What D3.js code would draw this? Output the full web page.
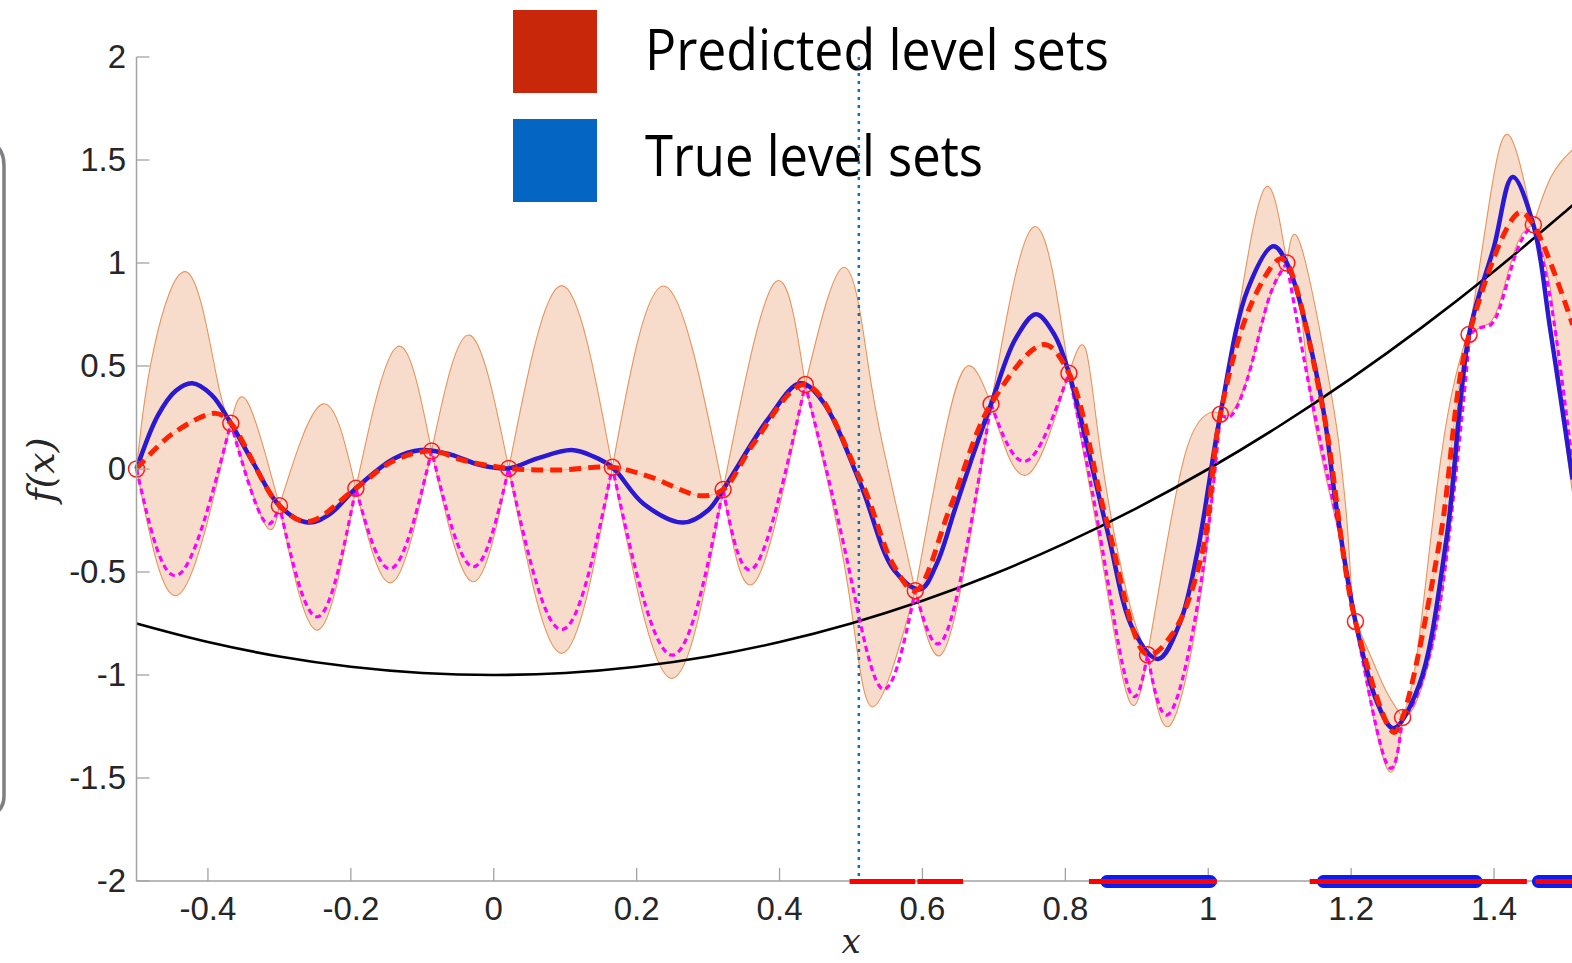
<!DOCTYPE html>
<html>
<head>
<meta charset="utf-8">
<script src="https://cdn.jsdelivr.net/npm/d3@7"></script>
<style>
  body { margin: 0; background: #fff; }
  svg { display: block; }
</style>
</head>
<body>
<svg id="chart" width="1572" height="963"></svg>
<script>
// Observations (red circles)
const obsX = [-0.5, -0.368, -0.300, -0.193, -0.087, 0.021, 0.166, 0.321, 0.436, 0.590,
              0.696, 0.805, 0.915, 1.017, 1.110, 1.206, 1.272, 1.365, 1.455];
const obsY = [0.0, 0.222, -0.178, -0.094, 0.087, 0.003, 0.008, -0.100, 0.410, -0.591,
              0.315, 0.465, -0.902, 0.266, 1.0, -0.740, -1.206, 0.653, 1.186];

// Confidence band, upper edge (pinches at the observations)
const bandUpper = [
  [-0.5, 0.0], [-0.476, 0.58], [-0.428, 0.953], [-0.388, 0.45], [-0.368, 0.222],
  [-0.345, 0.327], [-0.300, -0.178],
  [-0.239, 0.316], [-0.193, -0.094],
  [-0.135, 0.594], [-0.087, 0.087],
  [-0.034, 0.65], [0.021, 0.003],
  [0.095, 0.89], [0.166, 0.008],
  [0.239, 0.888], [0.321, -0.100],
  [0.392, 0.90], [0.436, 0.410],
  [0.49, 0.979], [0.523, 0.53], [0.546, 0.09], [0.590, -0.591],
  [0.63, 0.15], [0.663, 0.5], [0.696, 0.315],
  [0.756, 1.176], [0.805, 0.465],
  [0.828, 0.586], [0.849, 0.092], [0.886, -0.60], [0.915, -0.902],
  [0.94, -0.4], [0.97, 0.1], [1.0, 0.27], [1.017, 0.266],
  [1.045, 0.82], [1.08, 1.367], [1.110, 1.0],
  [1.13, 1.08], [1.171, 0.388], [1.185, 0.06], [1.194, -0.247], [1.2, -0.553], [1.206, -0.740],
  [1.23, -0.93], [1.25, -1.085], [1.272, -1.206],
  [1.29, -0.95], [1.311, -0.35], [1.335, 0.26], [1.358, 0.6], [1.365, 0.653],
  [1.393, 1.286], [1.42, 1.623], [1.455, 1.186],
  [1.48, 1.42], [1.51, 1.55]
];

// Confidence band, lower edge
const bandLower = [
  [-0.5, 0.0], [-0.442, -0.612], [-0.368, 0.222],
  [-0.32, -0.269], [-0.300, -0.178],
  [-0.246, -0.782], [-0.193, -0.094],
  [-0.142, -0.55], [-0.087, 0.087],
  [-0.030, -0.547], [0.021, 0.003],
  [0.095, -0.895], [0.166, 0.008],
  [0.248, -1.016], [0.321, -0.100],
  [0.366, -0.547], [0.436, 0.410],
  [0.495, -0.555], [0.53, -1.155], [0.590, -0.591],
  [0.625, -0.905], [0.662, -0.427], [0.696, 0.315],
  [0.746, -0.029], [0.805, 0.465],
  [0.849, -0.39], [0.889, -1.121], [0.915, -0.902],
  [0.947, -1.243], [0.99, -0.6], [1.017, 0.266],
  [1.035, 0.285], [1.06, 0.5], [1.085, 0.82], [1.110, 1.0],
  [1.13, 0.75], [1.147, 0.264], [1.185, -0.35], [1.206, -0.740],
  [1.25, -1.452], [1.272, -1.206],
  [1.292, -1.125], [1.32, -0.757], [1.343, -0.145], [1.362, 0.55], [1.365, 0.653],
  [1.385, 0.693], [1.405, 0.78], [1.431, 1.081], [1.455, 1.186],
  [1.48, 0.85], [1.495, 0.3], [1.51, -0.12]
];

// Magenta dotted lower bound
const lowerBound = [
  [-0.5, 0.0], [-0.442, -0.515], [-0.368, 0.222],
  [-0.324, -0.238], [-0.300, -0.178],
  [-0.246, -0.717], [-0.193, -0.094],
  [-0.142, -0.481], [-0.087, 0.087],
  [-0.030, -0.474], [0.021, 0.003],
  [0.095, -0.78], [0.166, 0.008],
  [0.248, -0.903], [0.321, -0.100],
  [0.366, -0.471], [0.436, 0.410],
  [0.495, -0.45], [0.544, -1.068], [0.590, -0.591],
  [0.625, -0.844], [0.662, -0.38], [0.696, 0.315],
  [0.746, 0.04], [0.805, 0.465],
  [0.849, -0.33], [0.889, -1.069], [0.915, -0.902],
  [0.947, -1.182], [0.99, -0.55], [1.017, 0.266],
  [1.035, 0.27], [1.06, 0.5], [1.085, 0.83], [1.110, 1.0],
  [1.147, 0.3], [1.185, -0.33], [1.206, -0.740],
  [1.25, -1.432], [1.272, -1.206],
  [1.292, -1.1], [1.32, -0.74], [1.343, -0.14], [1.362, 0.5], [1.365, 0.653],
  [1.385, 0.69], [1.405, 0.754], [1.431, 1.05], [1.455, 1.186],
  [1.48, 0.8], [1.51, 0.02]
];

// True function (blue)
const trueF = [
  [-0.5, 0.0], [-0.47, 0.26], [-0.445, 0.38], [-0.422, 0.416], [-0.395, 0.36], [-0.368, 0.222],
  [-0.335, 0.02], [-0.3, -0.178], [-0.26, -0.26], [-0.23, -0.22], [-0.193, -0.094],
  [-0.14, 0.05], [-0.102, 0.092], [-0.06, 0.07], [-0.02, 0.02], [0.021, 0.003],
  [0.06, 0.05], [0.109, 0.092], [0.14, 0.06], [0.166, 0.008], [0.21, -0.17],
  [0.265, -0.26], [0.3, -0.2], [0.321, -0.100], [0.383, 0.238], [0.429, 0.416],
  [0.46, 0.33], [0.513, -0.07], [0.56, -0.49], [0.597, -0.584], [0.62, -0.46],
  [0.645, -0.2], [0.67, 0.06], [0.696, 0.315], [0.73, 0.63], [0.759, 0.751],
  [0.785, 0.65], [0.805, 0.465], [0.858, -0.289], [0.895, -0.78], [0.93, -0.922],
  [0.96, -0.75], [0.985, -0.40], [1.017, 0.266], [1.055, 0.87], [1.091, 1.081],
  [1.110, 1.0], [1.157, 0.366], [1.18, -0.2], [1.206, -0.740], [1.236, -1.13],
  [1.259, -1.258], [1.295, -1.05], [1.333, -0.349], [1.365, 0.653], [1.40, 1.08],
  [1.426, 1.418], [1.455, 1.186], [1.479, 0.67], [1.51, -0.05]
];

// Predicted mean (red dashed)
const meanF = [
  [-0.5, 0.0], [-0.45, 0.17], [-0.389, 0.27], [-0.368, 0.222], [-0.3, -0.178],
  [-0.26, -0.255], [-0.193, -0.094], [-0.14, 0.04], [-0.087, 0.087], [-0.04, 0.04],
  [0.021, 0.003], [0.09, -0.005], [0.166, 0.008], [0.22, -0.04], [0.29, -0.13],
  [0.321, -0.100], [0.364, 0.125], [0.436, 0.410], [0.513, -0.05], [0.56, -0.47],
  [0.590, -0.591], [0.639, -0.185], [0.696, 0.315], [0.770, 0.604], [0.805, 0.465],
  [0.858, -0.254], [0.915, -0.902], [0.95, -0.8], [0.99, -0.43], [1.017, 0.266],
  [1.06, 0.8], [1.10, 1.02], [1.110, 1.0], [1.16, 0.3], [1.206, -0.740],
  [1.26, -1.279], [1.272, -1.206], [1.324, -0.349], [1.365, 0.653], [1.436, 1.245],
  [1.455, 1.186], [1.51, 0.7]
];

// Threshold curve (black)
const threshold = [
  [-0.5, -0.75], [-0.4, -0.84], [-0.3, -0.91], [-0.2, -0.96], [-0.1, -0.99], [0, -1.0],
  [0.1, -0.99], [0.2, -0.96], [0.3, -0.91], [0.4, -0.84], [0.5, -0.75], [0.6, -0.64],
  [0.7, -0.51], [0.8, -0.36], [0.9, -0.19], [1.0, 0.0], [1.1, 0.21], [1.2, 0.44],
  [1.3, 0.69], [1.4, 0.96], [1.5, 1.25], [1.51, 1.28]
];

const currentX = 0.511;

// Level sets on the x axis
const predictedSets = [[0.498, 0.590], [0.593, 0.657], [0.833, 1.012], [1.142, 1.446], [1.458, 1.52]];
const trueSets = [[0.849, 1.012], [1.152, 1.384], [1.453, 1.53]];

const xTicks = [-0.4, -0.2, 0, 0.2, 0.4, 0.6, 0.8, 1, 1.2, 1.4];
const yTicks = [-2, -1.5, -1, -0.5, 0, 0.5, 1, 1.5, 2];

const legendItems = [
  { label: 'Predicted level sets', color: '#c8270a' },
  { label: 'True level sets', color: '#0565c2' }
];

const svg = d3.select('#chart');

const xScale = d3.scaleLinear().domain([-0.5, 1.5]).range([136.5, 1565.5]);
const yScale = d3.scaleLinear().domain([-2, 2]).range([881, 57]);

// split a point list into pieces between consecutive observations
function splitAtObs(points) {
    const bounds = obsX.concat([Infinity]);
    const segs = [];
    for (let i = 0; i < bounds.length - 1; i++) {
        const a = bounds[i], b = bounds[i + 1];
        const seg = points.filter(p => p[0] >= a - 1e-9 && p[0] <= b + 1e-9);
        if (seg.length > 1) segs.push(seg);
    }
    return segs;
}

const segLine = d3.line()
    .x(d => xScale(d[0]))
    .y(d => yScale(d[1]))
    .curve(d3.curveNatural);

function chain(segs) {
    return segs.map((s, i) => {
        const p = segLine(s);
        return i === 0 ? p : 'L' + p.slice(1);
    }).join('');
}

const smoothLine = d3.line()
    .x(d => xScale(d[0]))
    .y(d => yScale(d[1]))
    .curve(d3.curveCatmullRom.alpha(0.5));

const upperSegs = splitAtObs(bandUpper);
const lowerSegs = splitAtObs(bandLower);
const lowerRev = lowerSegs.slice().reverse().map(s => s.slice().reverse());

// gray edge at far left
svg.append('path')
    .attr('d', 'M-20,141 Q4,141 4,166 L4,796 Q4,816 -20,816')
    .style('fill', 'none')
    .style('stroke', '#7d7f82')
    .style('stroke-width', 3.5);

// band fill
svg.append('path')
    .attr('d', chain(upperSegs) + 'L' + chain(lowerRev).slice(1) + 'Z')
    .style('fill', '#f7dccb')
    .style('stroke', 'none');

// band edges
[upperSegs, lowerSegs].forEach(segs => {
    svg.append('path')
        .attr('d', chain(segs))
        .style('fill', 'none')
        .style('stroke', '#e5955f')
        .style('stroke-width', 1.1);
});

// faint mean line inside the band
svg.append('path')
    .attr('d', smoothLine(meanF))
    .style('fill', 'none')
    .style('stroke', '#f2b895')
    .style('stroke-width', 1);

// threshold
svg.append('path')
    .attr('d', smoothLine(threshold))
    .style('fill', 'none')
    .style('stroke', '#000')
    .style('stroke-width', 2.6);

// magenta lower bound
svg.append('path')
    .attr('d', chain(splitAtObs(lowerBound)))
    .style('fill', 'none')
    .style('stroke', '#ff00ff')
    .style('stroke-width', 3.2)
    .style('stroke-dasharray', '6,4');

// true function
svg.append('path')
    .attr('d', smoothLine(trueF))
    .style('fill', 'none')
    .style('stroke', '#2a18d2')
    .style('stroke-width', 4.5);

// predicted mean
svg.append('path')
    .attr('d', smoothLine(meanF))
    .style('fill', 'none')
    .style('stroke', '#ff2200')
    .style('stroke-width', 5)
    .style('stroke-dasharray', '12,7');

// observations
svg.selectAll('.obs')
    .data(obsX.map((v, i) => [v, obsY[i]]))
    .enter().append('circle')
    .attr('class', 'obs')
    .attr('cx', d => xScale(d[0]))
    .attr('cy', d => yScale(d[1]))
    .attr('r', 8)
    .style('fill', 'none')
    .style('stroke', '#ff1a1a')
    .style('stroke-width', 1.5);

// axes
const axisColor = '#a3a3a3';
const textColor = '#262626';

svg.append('line')
    .attr('x1', xScale(-0.5)).attr('x2', 1572)
    .attr('y1', yScale(-2)).attr('y2', yScale(-2))
    .style('stroke', axisColor).style('stroke-width', 1.5);
svg.append('line')
    .attr('x1', xScale(-0.5)).attr('x2', xScale(-0.5))
    .attr('y1', yScale(2)).attr('y2', yScale(-2))
    .style('stroke', axisColor).style('stroke-width', 1.5);

xTicks.forEach(t => {
    svg.append('line')
        .attr('x1', xScale(t)).attr('x2', xScale(t))
        .attr('y1', yScale(-2)).attr('y2', yScale(-2) - 13)
        .style('stroke', axisColor).style('stroke-width', 1.3);
    svg.append('text')
        .attr('x', xScale(t))
        .attr('y', 920)
        .style('text-anchor', 'middle')
        .style('font-family', '"Liberation Sans", Arial, sans-serif')
        .style('font-size', '33px')
        .style('fill', textColor)
        .text(d3.format('')(t).replace('−', '-'));
});

yTicks.forEach(t => {
    svg.append('line')
        .attr('x1', xScale(-0.5)).attr('x2', xScale(-0.5) + 13)
        .attr('y1', yScale(t)).attr('y2', yScale(t))
        .style('stroke', axisColor).style('stroke-width', 1.3);
    svg.append('text')
        .attr('x', 126)
        .attr('y', yScale(t) + 11)
        .style('text-anchor', 'end')
        .style('font-family', '"Liberation Sans", Arial, sans-serif')
        .style('font-size', '33px')
        .style('fill', textColor)
        .text(d3.format('')(t).replace('−', '-'));
});

// axis labels
svg.append('text')
    .attr('transform', 'translate(54,470) rotate(-90)')
    .style('text-anchor', 'middle')
    .style('font-family', '"DejaVu Serif", serif')
    .style('font-style', 'italic')
    .style('font-size', '38px')
    .style('fill', textColor)
    .text('f(x)');

svg.append('text')
    .attr('x', 851)
    .attr('y', 953)
    .style('text-anchor', 'middle')
    .style('font-family', '"DejaVu Serif", serif')
    .style('font-style', 'italic')
    .style('font-size', '34px')
    .style('fill', textColor)
    .text('x');

// level sets on the bottom axis
const barY = yScale(-2) + 0.5;
trueSets.forEach(s => {
    svg.append('line')
        .attr('x1', xScale(s[0]) + 6.5).attr('x2', xScale(s[1]) - 6.5)
        .attr('y1', barY).attr('y2', barY)
        .style('stroke', '#0a1cf0')
        .style('stroke-width', 13)
        .style('stroke-linecap', 'round');
});
predictedSets.forEach(s => {
    svg.append('line')
        .attr('x1', xScale(s[0])).attr('x2', xScale(s[1]))
        .attr('y1', barY).attr('y2', barY)
        .style('stroke', '#ff0000')
        .style('stroke-width', 5);
});

// legend
legendItems.forEach((d, i) => {
    svg.append('rect')
        .attr('x', 513).attr('y', 10 + i * 109)
        .attr('width', 84).attr('height', 83)
        .style('fill', d.color);
    svg.append('text')
        .attr('x', 645).attr('y', 70 + i * 106)
        .attr('textLength', i === 0 ? 464 : 338)
        .attr('lengthAdjust', 'spacingAndGlyphs')
        .style('font-family', '"Open Sans", "Noto Sans", sans-serif')
        .style('font-size', '56px')
        .style('fill', '#000')
        .text(d.label);
});

// current query location
svg.append('line')
    .attr('x1', xScale(currentX)).attr('x2', xScale(currentX))
    .attr('y1', yScale(2)).attr('y2', yScale(-2))
    .style('stroke', '#0a72bd')
    .style('stroke-width', 2.5)
    .style('stroke-dasharray', '3,5');
</script>
</body>
</html>
